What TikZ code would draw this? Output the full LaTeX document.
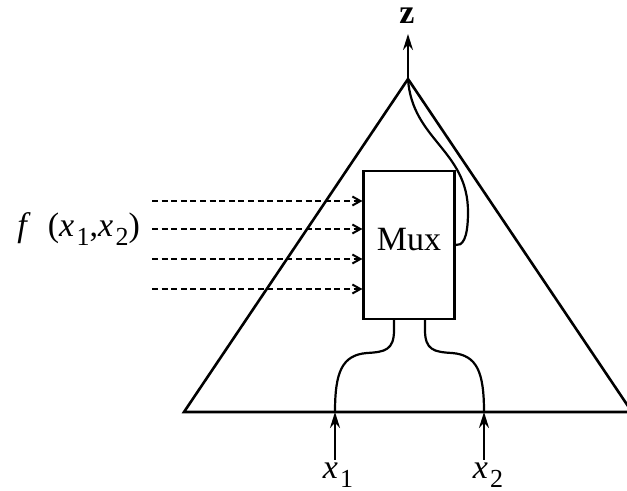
\documentclass[tikz,border=0pt]{standalone}
\usepackage{fontspec}
\setmainfont{Liberation Serif}
\usepackage{tikz}
\usetikzlibrary{
  arrows.meta,
  positioning,
  calc
}
\newcommand{\lowsub}[1]{\hspace{1.2pt}\raisebox{-4.5pt}{\fontsize{13}{14}\selectfont #1}}

\begin{document}
\begin{tikzpicture}[x=0.5pt, y=-0.5pt,
  font=\fontsize{17}{20}\selectfont,
  wire/.style={line width=1.1pt},
  edge/.style={line width=1.3pt},
  feed/.style={line width=1pt, dash pattern=on 3pt off 1.8pt, -{Straight Barb[length=4pt,width=4.5pt]}},
  inarrow/.style={line width=1.1pt, -{Stealth[length=8pt,width=5pt]}}]
\useasboundingbox (0,0) rectangle (627,491);

% triangle
\coordinate (apex) at (408,79);
\coordinate (bl) at (184,412);
\coordinate (br) at (632,412);
\draw[edge, line join=miter] (apex) -- (bl) -- (br) -- cycle;

% multiplexer
\node[draw, wire, minimum width=45.5pt, minimum height=74pt, inner sep=0pt] (mux) at (409,245) {};
\node at (409,240) {Mux};

% output
\coordinate (zout) at (408,34);
\draw[inarrow] (apex) -- (zout);
\node[font=\fontsize{17}{20}\selectfont\bfseries, inner sep=0pt] (zlab) at (407,16) {z};
\draw[wire] (apex) .. controls (412,140) and (468,150) .. (468,212)
  .. controls (468,240) and (462,246) .. (mux.east);

% selector inputs
\foreach \i/\y in {1/201, 2/229, 3/259, 4/289} {
  \coordinate (f\i) at (152,\y);
  \draw[feed] (f\i) -- (f\i -| mux.west);
}
\node[anchor=east] (flab) at (147,229) {\textit{f}\enspace(\textit{x}\lowsub{1},\textit{x}\lowsub{2})};

% data inputs
\coordinate (ml) at ([xshift=-7.5pt]mux.south);
\coordinate (mr) at ([xshift=8pt]mux.south);
\coordinate (b1) at (335,412);
\coordinate (b2) at (484,412);
\draw[wire] (ml) -- ++(0,10) .. controls (394,350) and (385,352) .. (367,353)
  .. controls (342,355) and (335,372) .. (b1);
\draw[wire] (mr) -- ++(0,10) .. controls (425,350) and (434,352) .. (452,353)
  .. controls (477,355) and (484,372) .. (b2);
\coordinate (in1) at (335,460);
\coordinate (in2) at (484,460);
\draw[inarrow] (in1) -- (b1);
\draw[inarrow] (in2) -- (b2);
\node (x1) at (338,475) {\textit{x}\lowsub{1}};
\node (x2) at (488,475) {\textit{x}\lowsub{2}};
\end{tikzpicture}
\end{document}
